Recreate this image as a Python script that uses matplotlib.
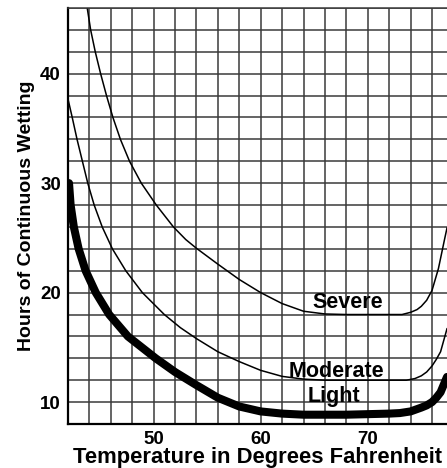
import numpy as np
import matplotlib
matplotlib.use("Agg")
import matplotlib.pyplot as plt
from matplotlib.ticker import MultipleLocator

plt.rcParams["font.family"] = ["Liberation Sans", "DejaVu Sans"]
plt.rcParams["font.weight"] = "bold"

# curves: temperature (F) -> hours of wetting
severe_t = [43.8, 44.12, 44.55, 45.05, 45.6, 46.2, 46.9, 47.75, 48.85, 50.25,
            51.85, 53.0, 54.0, 56.0, 58.0, 60.0, 62.0, 64.0, 66.0, 68.0, 72.0,
            73.2, 74.0, 74.6, 75.0, 75.5, 76.0, 76.6, 77.2, 77.4]
severe_h = [46.0, 44.0, 42.0, 40.0, 38.0, 36.0, 34.0, 32.0, 30.0, 28.0,
            26.0, 24.85, 24.05, 22.6, 21.2, 20.0, 19.0, 18.3, 18.05, 18.0, 18.0,
            18.0, 18.2, 18.45, 18.75, 19.3, 20.2, 22.2, 25.0, 25.9]

moderate_t = [42.0, 42.4, 42.85, 43.35, 43.85, 44.45, 45.2, 46.15, 47.4, 48.95,
              51.0, 52.5, 54.0, 56.0, 58.0, 60.0, 62.0, 64.0, 66.0, 70.0, 73.6,
              74.4, 75.0, 75.5, 76.0, 76.4, 76.8, 77.4]
moderate_h = [37.7, 36.0, 34.0, 32.0, 30.0, 28.0, 26.0, 24.0, 22.0, 20.0,
              18.0, 16.8, 15.8, 14.6, 13.7, 12.9, 12.35, 12.1, 12.0, 12.0, 12.0,
              12.15, 12.4, 12.75, 13.3, 13.9, 14.6, 16.7]

light_t = [42.1, 42.25, 42.55, 43.0, 43.65, 44.6, 45.85, 47.6, 50.2, 52.0, 54.0,
           56.0, 58.0, 60.0, 62.0, 64.0, 68.0, 72.0, 73.0, 74.0, 75.0, 75.5,
           76.0, 76.4, 76.8, 77.4]
light_h = [30.0, 28.0, 26.0, 24.0, 22.0, 20.0, 18.0, 16.0, 14.0, 12.75, 11.55,
           10.4, 9.6, 9.15, 8.95, 8.85, 8.85, 8.95, 9.0, 9.15, 9.5, 9.7,
           10.0, 10.4, 10.9, 12.3]

labels = ["Severe", "Moderate", "Light"]
label_x = [68.1, 67.1, 66.8]
label_y = [19.1, 12.8, 10.5]

fig = plt.figure(figsize=(4.47, 4.68), dpi=100)
ax = fig.add_axes([0.152, 0.094, 0.848, 0.889])

ax.plot(severe_t, severe_h, color="black", lw=1.1)
ax.plot(moderate_t, moderate_h, color="black", lw=1.1)
ax.plot(light_t, light_h, color="black", lw=5.8, solid_capstyle="round")

for txt, x, y in zip(labels, label_x, label_y):
    ax.text(x, y, txt, ha="center", va="center", fontsize=15.5, fontweight="bold",
            color="black")

ax.set_xlim(42, 77.4)
ax.set_ylim(8, 46)
ax.set_xticks([50, 60, 70])
ax.set_yticks([10, 20, 30, 40])
ax.xaxis.set_minor_locator(MultipleLocator(2))
ax.yaxis.set_minor_locator(MultipleLocator(2))
ax.grid(which="both", color="#3a3a3a", lw=1.1)
ax.set_axisbelow(True)
ax.tick_params(which="both", length=0)
ax.tick_params(axis="x", pad=5, labelsize=13.5)
ax.tick_params(axis="y", pad=5, labelsize=13.5)
for s in ax.spines.values():
    s.set_color("#3a3a3a")
    s.set_linewidth(1.1)
ax.spines["left"].set_color("black")
ax.spines["left"].set_linewidth(1.6)
ax.spines["bottom"].set_color("black")
ax.spines["bottom"].set_linewidth(1.6)
ax.spines["right"].set_visible(False)

ax.set_xlabel("Temperature in Degrees Fahrenheit", fontsize=15.8,
              fontweight="bold", labelpad=-1)
ax.set_ylabel("Hours of Continuous Wetting", fontsize=14,
              fontweight="bold", labelpad=4)

fig.savefig("out.png", dpi=100)
